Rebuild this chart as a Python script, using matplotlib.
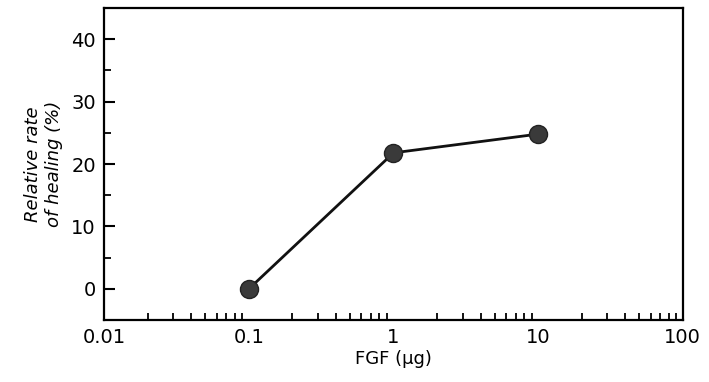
import matplotlib
matplotlib.use("Agg")
import matplotlib.pyplot as plt
from matplotlib.ticker import LogLocator, FixedLocator, FixedFormatter, MultipleLocator

# data
fgf_dose = [0.1, 1, 10]
healing = [0.0, 21.8, 24.8]
x_ticks = [0.01, 0.1, 1, 10, 100]
x_labels = ["0.01", "0.1", "1", "10", "100"]
y_ticks = [0, 10, 20, 30, 40]

fig = plt.figure(figsize=(7.09, 3.82), dpi=100)
ax = fig.add_axes([0.147, 0.162, 0.816, 0.817])

ax.plot(fgf_dose, healing, color="#111111", lw=2,
        marker="o", ms=13, mfc="#3a3a3a", mec="#222222")

ax.set_xscale("log")
ax.set_xlim(0.01, 100)
ax.set_ylim(-5, 45)

ax.xaxis.set_major_locator(FixedLocator(x_ticks))
ax.xaxis.set_major_formatter(FixedFormatter(x_labels))
ax.xaxis.set_minor_locator(LogLocator(base=10, subs=range(2, 10)))
ax.set_yticks(y_ticks)
ax.yaxis.set_minor_locator(MultipleLocator(5))

ax.tick_params(axis="both", which="major", direction="in", length=8, width=1.5,
               labelsize=14, pad=6)
ax.tick_params(axis="both", which="minor", direction="in", length=5, width=1.3)
ax.tick_params(axis="x", which="major", length=0)
for s in ax.spines.values():
    s.set_linewidth(1.6)

ax.set_xlabel("FGF (\u03bcg)", fontsize=13, labelpad=2)
ax.set_ylabel("Relative rate\nof healing (%)", fontsize=13, style="italic", labelpad=6)

fig.savefig("out.png", dpi=100)
